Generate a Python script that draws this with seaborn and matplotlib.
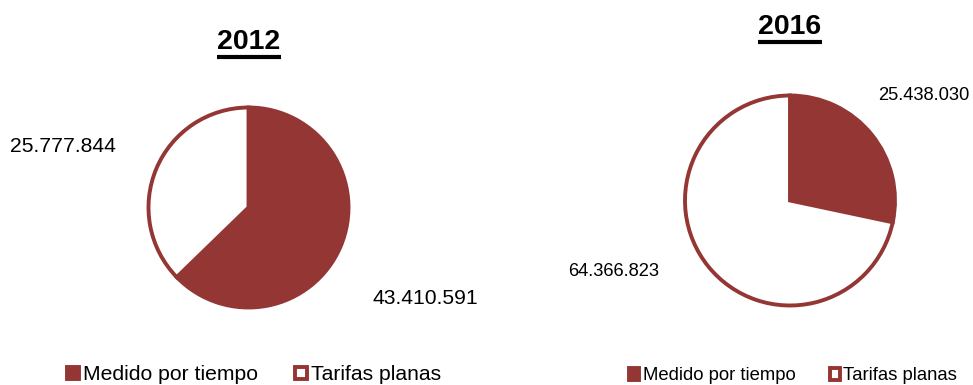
import matplotlib
matplotlib.use("Agg")
import matplotlib.pyplot as plt
from matplotlib.lines import Line2D
import seaborn as sns

sns.set_style("white")
plt.rcParams['font.family'] = ['Liberation Sans', 'DejaVu Sans']
plt.rcParams['text.color'] = 'black'

years = ["2012", "2016"]
categories = ["Medido por tiempo", "Tarifas planas"]
values_2012 = [43410591, 25777844]
values_2016 = [25438030, 64366823]
labels_2012 = ["43.410.591", "25.777.844"]
labels_2016 = ["25.438.030", "64.366.823"]

maroon = "#943634"
W, H = 973, 385
fig = plt.figure(figsize=(W / 100, H / 100), dpi=100)

def pie_axes(cx, cy, r):
    return fig.add_axes([(cx - r) / W, (H - cy - r) / H, 2 * r / W, 2 * r / H])

specs = [
    dict(vals=values_2012, labels=labels_2012, cx=248.5, cy=207.5, r=100,
         title=years[0], tx=249, ty=49, tsize=20.5,
         lab_pos=[(425, 298), (63, 146)], lsize=15.2,
         leg=(254, 375), legsize=15.2, csp=1.75),
    dict(vals=values_2016, labels=labels_2016, cx=790, cy=200.5, r=105,
         title=years[1], tx=790, ty=34, tsize=20.5,
         lab_pos=[(924, 95), (614, 272)], lsize=13.2,
         leg=(793, 376), legsize=13.3, csp=1.85),
]

titles = []
for s in specs:
    ax = pie_axes(s["cx"], s["cy"], s["r"])
    wedges, _ = ax.pie(s["vals"], colors=[maroon, "white"], startangle=90,
                       counterclock=False, radius=1,
                       wedgeprops=dict(edgecolor=maroon, linewidth=2.8))
    for w in wedges:
        w.set_clip_on(False)
    ax.set_xlim(-1, 1)
    ax.set_ylim(-1, 1)
    ax.set_aspect("equal")
    ax.axis("off")
    for lab, (x, y) in zip(s["labels"], s["lab_pos"]):
        fig.text(x / W, 1 - y / H, lab, ha="center", va="center",
                 fontsize=s["lsize"], color="black")
    t = fig.text(s["tx"] / W, 1 - s["ty"] / H, s["title"], ha="center",
                 va="baseline", fontsize=s["tsize"], fontweight="bold",
                 color="black")
    titles.append(t)
    leg = fig.legend(wedges, categories, loc="center",
                     bbox_to_anchor=(s["leg"][0] / W, 1 - s["leg"][1] / H),
                     ncol=2, frameon=False, fontsize=s["legsize"],
                     handlelength=0.55, handleheight=0.55, handletextpad=0.2,
                     columnspacing=s["csp"], borderaxespad=0, borderpad=0)
    for txt in leg.get_texts():
        txt.set_color("black")

fig.canvas.draw()
renderer = fig.canvas.get_renderer()
for t in titles:
    bb = t.get_window_extent(renderer)
    y = bb.y0 - 1.5
    fig.add_artist(Line2D([bb.x0 / W, bb.x1 / W], [y / H, y / H],
                          transform=fig.transFigure, color="black",
                          linewidth=3.0, solid_capstyle="butt"))

fig.savefig("out.png", dpi=100, facecolor="white")
